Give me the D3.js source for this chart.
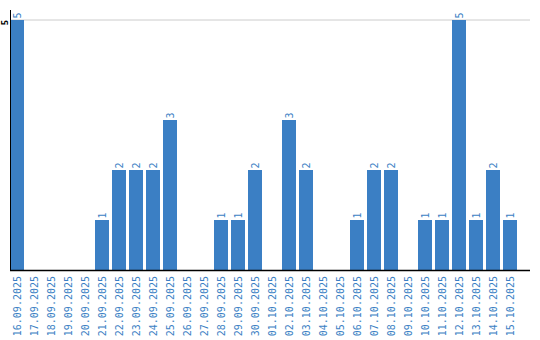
<!DOCTYPE html>
<html>
<head>
<meta charset="utf-8">
<script src="https://cdn.jsdelivr.net/npm/d3@7"></script>
<style>
  body { margin: 0; background: #fff; }
  text { font-family: "DejaVu Sans Mono", monospace; }
</style>
</head>
<body>
<div id="chart"></div>
<script>
// dates and counts
const dates = ["16.09.2025", "17.09.2025", "18.09.2025", "19.09.2025", "20.09.2025",
  "21.09.2025", "22.09.2025", "23.09.2025", "24.09.2025", "25.09.2025",
  "26.09.2025", "27.09.2025", "28.09.2025", "29.09.2025", "30.09.2025",
  "01.10.2025", "02.10.2025", "03.10.2025", "04.10.2025", "05.10.2025",
  "06.10.2025", "07.10.2025", "08.10.2025", "09.10.2025", "10.10.2025",
  "11.10.2025", "12.10.2025", "13.10.2025", "14.10.2025", "15.10.2025"];
const counts = [5, 0, 0, 0, 0, 1, 2, 2, 2, 3, 0, 0, 1, 1, 2, 0, 3, 2, 0, 0,
  1, 2, 2, 0, 1, 1, 5, 1, 2, 1];
const yTicks = [5];

const width = 540, height = 340;
const blue = "#3b7fc4";

const svg = d3.select("#chart").append("svg")
  .attr("width", width)
  .attr("height", height);

const x = d3.scaleBand()
  .domain(dates)
  .range([10, 517])
  .paddingInner(3 / 17)
  .paddingOuter(0);

const y = d3.scaleLinear()
  .domain([0, 5])
  .range([270, 20]);

// grid line
svg.selectAll("line.grid")
  .data(yTicks)
  .enter().append("line")
  .attr("class", "grid")
  .attr("x1", 10).attr("x2", 530)
  .attr("y1", d => y(d)).attr("y2", d => y(d))
  .attr("stroke", "#ccc");

// bars
svg.selectAll("rect.bar")
  .data(dates)
  .enter().append("rect")
  .attr("x", d => x(d))
  .attr("y", (d, i) => y(counts[i]))
  .attr("width", x.bandwidth())
  .attr("height", (d, i) => y(0) - y(counts[i]))
  .attr("fill", blue);

// value labels
svg.selectAll("text.val")
  .data(dates.filter((d, i) => counts[i] > 0))
  .enter().append("text")
  .attr("transform", d => {
    const v = counts[dates.indexOf(d)];
    return `translate(${x(d) + x.bandwidth() / 2 + 3.5},${y(v) - 1.5}) rotate(-90)`;
  })
  .attr("font-size", "10px")
  .attr("fill", blue)
  .text(d => counts[dates.indexOf(d)]);

// y axis
svg.append("line")
  .attr("x1", 10.5).attr("x2", 10.5)
  .attr("y1", 10).attr("y2", 270)
  .attr("stroke", "#000");

svg.selectAll("text.ytick")
  .data(yTicks)
  .enter().append("text")
  .attr("transform", d => `translate(8,${y(d) + 2.5}) rotate(-90)`)
  .attr("text-anchor", "middle")
  .attr("font-size", "9px")
  .attr("font-weight", "bold")
  .attr("fill", "#000")
  .text(d => d);

// x axis
const xAxis = svg.append("g")
  .attr("transform", "translate(0,270)")
  .call(d3.axisBottom(x).tickSize(0).tickPadding(0));
xAxis.select(".domain").remove();
xAxis.append("line")
  .attr("x1", 10).attr("x2", 530)
  .attr("y1", 0.5).attr("y2", 0.5)
  .attr("stroke", "#000")
  .attr("stroke-width", 1.5);
xAxis.selectAll(".tick text")
  .attr("transform", "rotate(-90)")
  .attr("text-anchor", "end")
  .attr("x", -6)
  .attr("y", 0)
  .attr("dy", "0.35em")
  .attr("font-size", "10px")
  .attr("font-family", "DejaVu Sans Mono, monospace")
  .attr("fill", blue);
</script>
</body>
</html>
